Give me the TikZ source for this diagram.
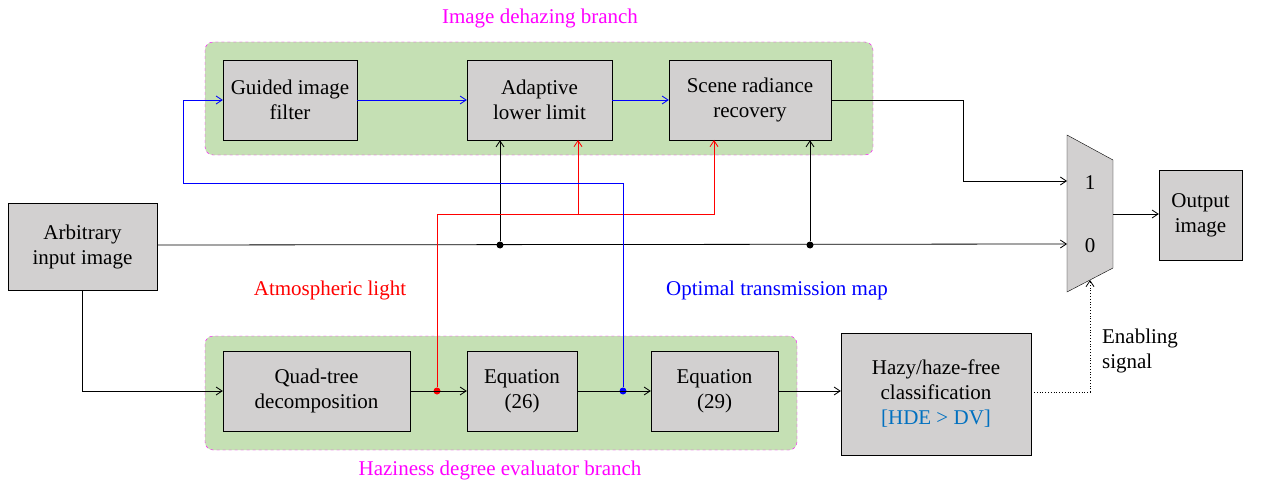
\documentclass[tikz,border=0pt]{standalone}
\usepackage{fontspec}
\setmainfont{Liberation Serif}
\usetikzlibrary{arrows.meta}
\definecolor{boxg}{RGB}{210,208,208}
\definecolor{grn}{RGB}{197,224,180}
\definecolor{mag}{RGB}{255,0,255}
\definecolor{hde}{RGB}{0,112,192}
\begin{document}
\begin{tikzpicture}[x=1pt,y=-1pt,
  every node/.style={font=\fontsize{21}{25}\selectfont},
  blk/.style={draw,fill=boxg,align=center,inner sep=0pt},
  grp/.style={draw=mag,dashed,fill=grn,rounded corners=8pt},
  arr/.style={-{Straight Barb[length=6pt,width=8pt]},thick},
  dot/.style={circle,fill,inner sep=0pt,minimum size=7pt}]
\useasboundingbox (0,0) rectangle (1274,492);
\draw[grp] (205,42) rectangle (873,155);
\draw[grp] (205,336) rectangle (797,450);
\node[mag] (t1) at (540,18) {Image dehazing branch};
\node[mag] (t2) at (500,470) {Haziness degree evaluator branch};
\node[blk,minimum width=134pt,minimum height=80pt] (gif) at (290,100) {Guided image\\filter};
\node[blk,minimum width=145pt,minimum height=80pt] (all) at (539.5,100) {Adaptive\\lower limit};
\node[blk,minimum width=162pt,minimum height=80pt] (srr) at (750,100) {Scene radiance\\recovery};
\node[blk,minimum width=187pt,minimum height=80pt] (qt) at (316.5,391) {Quad-tree\\decomposition};
\node[blk,minimum width=110pt,minimum height=80pt] (e26) at (522,391) {Equation\\(26)};
\node[blk,minimum width=127pt,minimum height=80pt] (e29) at (714.5,391) {Equation\\(29)};
\node[blk,minimum width=149pt,minimum height=87pt] (in) at (82.5,246.5) {Arbitrary\\input image};
\node[blk,minimum width=190pt,minimum height=122pt] (hz) at (936,394) {Hazy/haze-free\\classification\\\textcolor{hde}{[HDE > DV]}};
\node[blk,minimum width=83pt,minimum height=90pt] (out) at (1200.5,215) {Output\\image};
\draw[fill=boxg] (1067,135) -- (1113,160) -- (1113,268) -- (1067,292) -- cycle;
\node (m1) at (1090,183) {1};
\node (m0) at (1090,246) {0};
\coordinate (mi1) at (1067,181); \coordinate (mi0) at (1067,244);
\coordinate (mo) at (1113,214); \coordinate (mb) at (1090,280);
\node[red] (al) at (330,290) {Atmospheric light};
\node[blue] (otm) at (777,290) {Optimal transmission map};
\node[align=left] (es) at (1140,351) {Enabling\\signal};
% main input line
\node[dot] (d1) at (500,245) {}; \node[dot] (d2) at (810,245) {};
\draw[arr] (in.east|-0,245) -- (mi0);
\draw[arr] (d1) -- (d1|-all.south);
\draw[arr] (d2) -- (d2|-srr.south);
\draw[arr] (srr.east) -- (963,100) -- (963,181) -- (mi1);
\draw[arr] (mo) -- (out.west|-mo);
\draw[arr] (in.south) -- (82.5,391) -- (qt.west);
\node[dot,red] (rd) at (437,391) {};
\node[dot,blue] (bd) at (623,391) {};
\draw[arr] (qt.east) -- (e26.west);
\draw[arr] (e26.east) -- (e29.west);
\draw[arr] (e29.east) -- (hz.west|-e29.east);
\draw[arr,dotted] (hz.east|-0,392) -- (1090,392) -- (mb);
\draw[arr,red] (rd) -- (437,214) -- (578,214) -- (578,140);
\draw[arr,red] (578,214) -- (714,214) -- (714,140);
\draw[arr,blue] (bd) -- (623,183) -- (183,183) -- (183,100) -- (gif.west);
\draw[arr,blue] (gif.east) -- (all.west);
\draw[arr,blue] (all.east) -- (srr.west);
\end{tikzpicture}
\end{document}
